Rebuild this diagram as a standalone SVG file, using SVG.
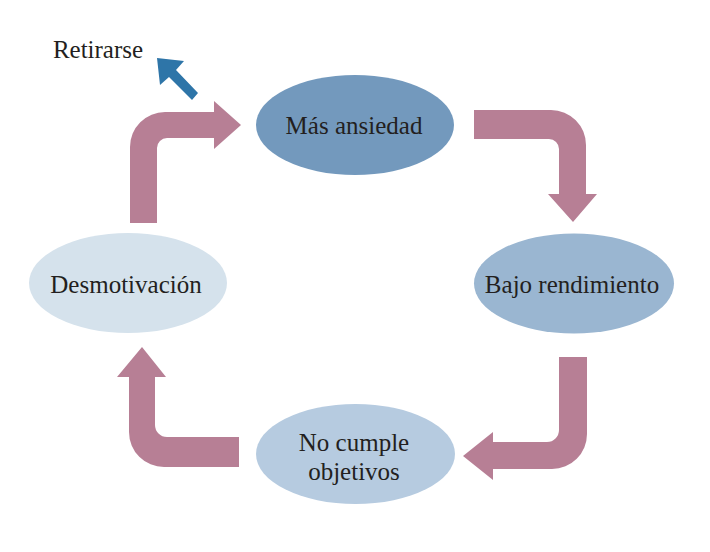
<svg xmlns="http://www.w3.org/2000/svg" width="710" height="552" viewBox="0 0 710 552">
<style>
.lbl{font-family:"Liberation Serif","DejaVu Serif",serif;font-size:25px;fill:#231f20;text-anchor:middle}
.arr{fill:#b77f95}
</style>
<rect width="710" height="552" fill="#ffffff"/>
<g id="connectors">
<path class="arr" d="M130,223 L130,147 A35,35 0 0 1 165,112 L214,112 L214,101 L241,125 L214,149 L214,138 L167,138 A10,10 0 0 0 157,148 L157,223 Z"/>
<path class="arr" d="M474,110 L551,110 A35,35 0 0 1 586,145 L586,194 L597,194 L573,222 L548,194 L559,194 L559,149 A10,10 0 0 0 549,139 L474,139 Z"/>
<path class="arr" d="M559,357 L587,357 L587,434 A35,35 0 0 1 552,469 L493,469 L493,480 L463,456 L493,432 L493,442 L547,442 A12,12 0 0 0 559,430 Z"/>
<path class="arr" d="M239,437 L167,437 A12,12 0 0 1 155,425 L155,377 L166,377 L142,347 L117,377 L129,377 L129,432 A35,35 0 0 0 164,467 L239,467 Z"/>
<polygon fill="#2e75a8" points="157,58 184,61 176,70 198,93 192,100 169,77 160,85"/>
</g>
<g id="retirarse"><text class="lbl" x="98" y="58">Retirarse</text></g>
<g id="mas-ansiedad">
<ellipse cx="355" cy="125" rx="99" ry="50" fill="#7399bd"/>
<text class="lbl" x="354" y="134">Más ansiedad</text>
</g>
<g id="bajo-rendimiento">
<ellipse cx="574" cy="283.5" rx="100" ry="50" fill="#9ab6d1"/>
<text class="lbl" x="572" y="293">Bajo rendimiento</text>
</g>
<g id="no-cumple">
<ellipse cx="355.5" cy="454" rx="99.5" ry="50" fill="#b6cbe0"/>
<text class="lbl" x="354" y="451">No cumple</text>
<text class="lbl" x="354" y="480">objetivos</text>
</g>
<g id="desmotivacion">
<ellipse cx="128" cy="283" rx="99" ry="50" fill="#d5e2ec"/>
<text class="lbl" x="126" y="293">Desmotivación</text>
</g>
</svg>
